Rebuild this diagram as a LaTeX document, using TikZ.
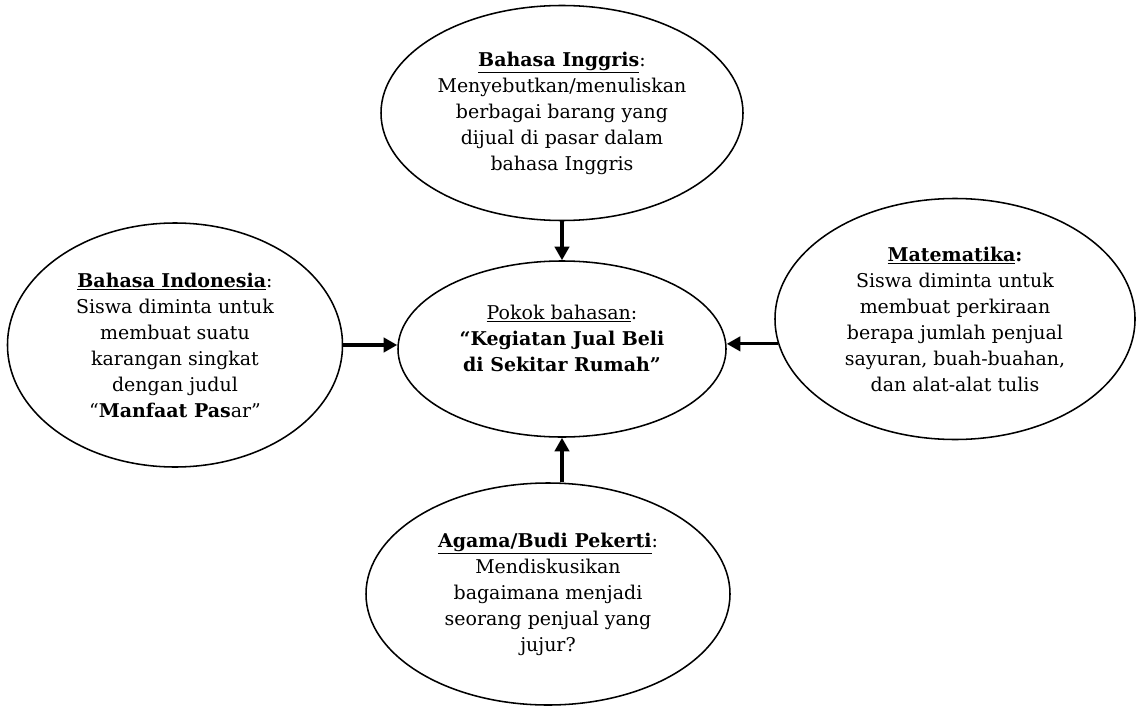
\documentclass[tikz,border=0pt]{standalone}
\usepackage{fontspec}
\setmainfont{DejaVu Serif}
\usepackage{tikz}
\usetikzlibrary{
  shapes.geometric,
  arrows.meta,
  positioning
}
\newcommand{\subj}[1]{\underline{\textbf{#1}}}

\begin{document}
\begin{tikzpicture}[
  topic/.style={draw=black, ellipse, inner sep=0pt, align=center,
                line width=1.1pt, font=\fontsize{13.5pt}{18.5pt}\selectfont},
  flow/.style={-{Triangle[length=0.34cm, width=0.36cm]}, line width=2.2pt, black}
]
\useasboundingbox (0,0) rectangle (28.525,-17.7);

%% ---------- CENTRE ----------
\node[topic, minimum width=8.2cm, minimum height=4.4cm, text depth=0.55cm]
  (pokok) at (14.05,-8.725)
  {\underline{Pokok bahasan}:\\\textbf{``Kegiatan Jual Beli}\\\textbf{di Sekitar Rumah''}};

%% ---------- SUBJECTS ----------
\node[topic, minimum width=9.05cm, minimum height=5.375cm] (ing) at (14.05,-2.825)
  {\subj{Bahasa Inggris}:\\Menyebutkan/menuliskan\\berbagai barang yang\\dijual di pasar dalam\\bahasa Inggris};
\node[topic, minimum width=8.375cm, minimum height=6.1cm] (ind) at (4.375,-8.625)
  {\subj{Bahasa Indonesia}:\\Siswa diminta untuk\\membuat suatu\\karangan singkat\\dengan judul\\``\textbf{Manfaat Pas}ar''};
\node[topic, minimum width=9.0cm, minimum height=6.025cm] (mat) at (23.875,-7.975)
  {\subj{Matematika}\textbf{:}\\Siswa diminta untuk\\membuat perkiraan\\berapa jumlah penjual\\sayuran, buah-buahan,\\dan alat-alat tulis};
\node[topic, minimum width=9.1cm, minimum height=5.55cm] (aga) at (13.7,-14.85)
  {\subj{Agama/Budi Pekerti}:\\Mendiskusikan\\bagaimana menjadi\\seorang penjual yang\\jujur?};

%% ---------- ARROWS ----------
\draw[flow] (ing) -- (pokok);
\draw[flow] (ind.east) -- (ind.east -| pokok.west);
\draw[flow] (mat.188) -- (mat.188 -| pokok.east);
\draw[flow] (pokok.south |- aga.north) -- (pokok.south);

\end{tikzpicture}
\end{document}
